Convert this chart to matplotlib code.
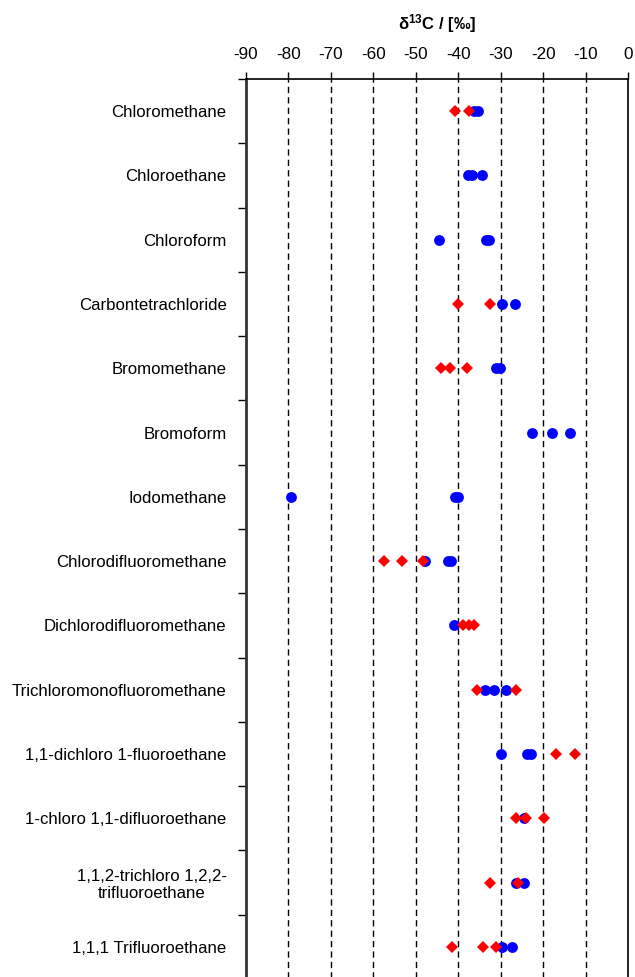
import numpy as np
import matplotlib.pyplot as plt

plt.rcParams['font.family'] = ['Liberation Sans', 'DejaVu Sans']
plt.rcParams['mathtext.fontset'] = 'custom'
plt.rcParams['mathtext.rm'] = 'Liberation Sans'
plt.rcParams['mathtext.bf'] = 'Liberation Sans:bold'

compounds = [
    "Chloromethane",
    "Chloroethane",
    "Chloroform",
    "Carbontetrachloride",
    "Bromomethane",
    "Bromoform",
    "Iodomethane",
    "Chlorodifluoromethane",
    "Dichlorodifluoromethane",
    "Trichloromonofluoromethane",
    "1,1-dichloro 1-fluoroethane",
    "1-chloro 1,1-difluoroethane",
    "1,1,2-trichloro 1,2,2-\ntrifluoroethane",
    "1,1,1 Trifluoroethane",
]

# blue circles
blue = [
    [-36.4, -35.4],
    [-37.8, -36.8, -34.3],
    [-44.5, -33.5, -32.8],
    [-29.8, -26.6],
    [-31.0, -30.2],
    [-22.7, -18.0, -13.6],
    [-79.5, -40.7, -40.0],
    [-47.8, -42.5, -41.8],
    [-41.1],
    [-33.8, -31.5, -28.7],
    [-29.9, -23.7, -22.8],
    [-24.4],
    [-26.3, -24.5],
    [-29.6, -27.4],
]

# red diamonds
red = [
    [-40.8, -37.5],
    [],
    [],
    [-40.0, -32.6],
    [-44.1, -41.9, -38.0],
    [],
    [],
    [-57.4, -53.3, -48.2],
    [-38.8, -37.5, -36.3],
    [-35.5, -26.3],
    [-16.9, -12.4],
    [-26.3, -24.1, -19.7],
    [-32.5, -25.9],
    [-41.4, -34.2, -31.0],
]

fig = plt.figure(figsize=(6.35, 9.77), dpi=100)
ax = fig.add_axes([246/635, -2/977, 382/635, 900/977])

for i, vals in enumerate(blue):
    ax.plot(vals, [i]*len(vals), 'o', color='#0000ff', markersize=7.8,
            markeredgewidth=0, zorder=3)
for i, vals in enumerate(red):
    if vals:
        ax.plot(vals, [i]*len(vals), 'D', color='#ff0000', markersize=5.8,
                markeredgewidth=0, zorder=4)

ax.set_xlim(-90, 0)
ax.set_ylim(len(compounds) - 0.5, -0.5)

ax.xaxis.tick_top()
ax.xaxis.set_label_position('top')
ax.set_xticks(np.arange(-90, 1, 10))
ax.set_xticklabels([str(v) for v in range(-90, 1, 10)])
ax.tick_params(axis='x', direction='out', length=5, width=1, pad=7,
               labelsize=12.3, colors='black')
ax.set_xlabel(r'$\mathbf{\delta^{13}C}$' + ' / [‰]', fontsize=12, fontweight='bold',
              labelpad=13)

ax.set_yticks(np.arange(len(compounds)))
ax.set_yticklabels(compounds, fontsize=12.05, multialignment='center')
ax.set_yticks(np.arange(len(compounds) + 1) - 0.5, minor=True)
ax.tick_params(axis='y', which='major', length=0, pad=14)
ax.tick_params(axis='y', which='minor', direction='out', length=6, width=1)

for v in range(-80, 0, 10):
    ax.axvline(v, color='black', linewidth=1, dashes=(4.5, 3), zorder=1)

ax.spines['left'].set_linewidth(2)
ax.spines['left'].set_color('#333333')
ax.spines['top'].set_linewidth(1.2)
ax.spines['right'].set_linewidth(1.2)
ax.spines['bottom'].set_visible(False)

fig.savefig('out.png', dpi=100)
